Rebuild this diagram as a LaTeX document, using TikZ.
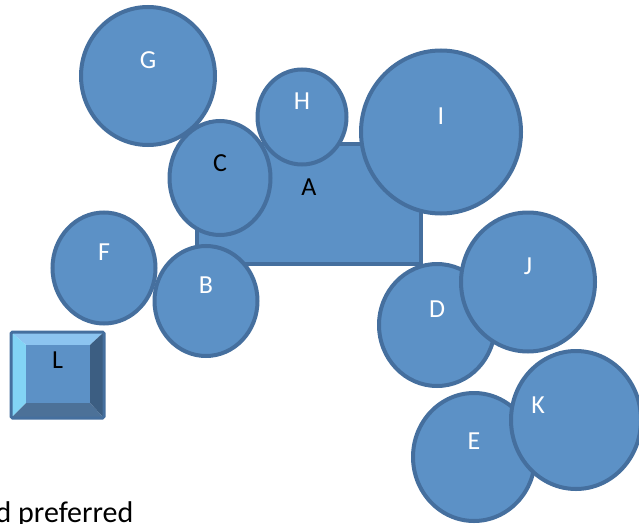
\documentclass[tikz,border=0pt]{standalone}
\usepackage{fontspec}
\setmainfont{Carlito}
\usetikzlibrary{shapes.geometric}
\definecolor{bfill}{RGB}{92,145,198}
\definecolor{bline}{RGB}{69,111,158}
\definecolor{bevtop}{RGB}{140,196,240}
\definecolor{bevleft}{RGB}{130,212,245}
\definecolor{bevright}{RGB}{60,94,130}
\definecolor{bevbot}{RGB}{76,113,152}
\begin{document}
\begin{tikzpicture}[x=1pt,y=-1pt,
  bub/.style={draw=bline,fill=bfill,line width=4pt,ellipse,inner sep=0pt,outer sep=0pt},
  box/.style={draw=bline,fill=bfill,line width=4pt,rectangle,inner sep=0pt,outer sep=0pt},
  lab/.style={font=\fontsize{26}{30}\selectfont,text=white,inner sep=0pt},
  labk/.style={lab,text=black}]
\useasboundingbox (0,0) rectangle (639,524);
% rectangle A
\node[box,minimum width=224pt,minimum height=120pt] (A) at (309,204) {};
\node[labk] (At) at (309,187) {A};
% circles
\node[bub,minimum width=134pt,minimum height=138pt] (G) at (148,76) {};
\node[lab] (Gt) at (148,60.5) {G};
\node[bub,minimum width=101pt,minimum height=114pt] (C) at (220,178) {};
\node[labk] (Ct) at (220,163.5) {C};
\node[bub,minimum width=89pt,minimum height=95pt] (H) at (302,117) {};
\node[lab] (Ht) at (302,101.5) {H};
\node[bub,minimum width=160pt,minimum height=163pt] (I) at (441,132) {};
\node[lab] (It) at (441,116.5) {I};
\node[bub,minimum width=103pt,minimum height=111pt] (F) at (104,268) {};
\node[lab] (Ft) at (104,252.5) {F};
\node[bub,minimum width=103pt,minimum height=110pt] (B) at (206,301) {};
\node[lab] (Bt) at (206,285.5) {B};
\node[bub,minimum width=116pt,minimum height=122pt] (D) at (437,325) {};
\node[lab] (Dt) at (437,309.5) {D};
\node[bub,minimum width=134pt,minimum height=139pt] (J) at (528,282) {};
\node[lab] (Jt) at (528,266.5) {J};
\node[bub,minimum width=122pt,minimum height=128pt] (E) at (474,457) {};
\node[lab] (Et) at (474,441.5) {E};
\node[bub,minimum width=130pt,minimum height=138pt] (K) at (576,420) {};
\node[lab] (Kt) at (538,405) {K};
% bevel box L
\fill[bevtop] (11,332) -- (104,332) -- (90,345) -- (26,345) -- cycle;
\fill[bevleft] (11,332) -- (26,345) -- (26,403) -- (11,418) -- cycle;
\fill[bevright] (104,332) -- (104,418) -- (90,403) -- (90,345) -- cycle;
\fill[bevbot] (11,418) -- (26,403) -- (90,403) -- (104,418) -- cycle;
\fill[bfill] (26,345) rectangle (90,403);
\draw[bline,line width=3pt,rounded corners=1.5pt] (11,332) rectangle (104,418);
\node[labk] (Lt) at (57.5,360) {L};
% text cut at the page edge, as in the reference
\node[anchor=base west,inner sep=0pt,font=\fontsize{30}{36}\selectfont] (txt) at (-4.5,522) {d preferred};
\end{tikzpicture}
\end{document}
